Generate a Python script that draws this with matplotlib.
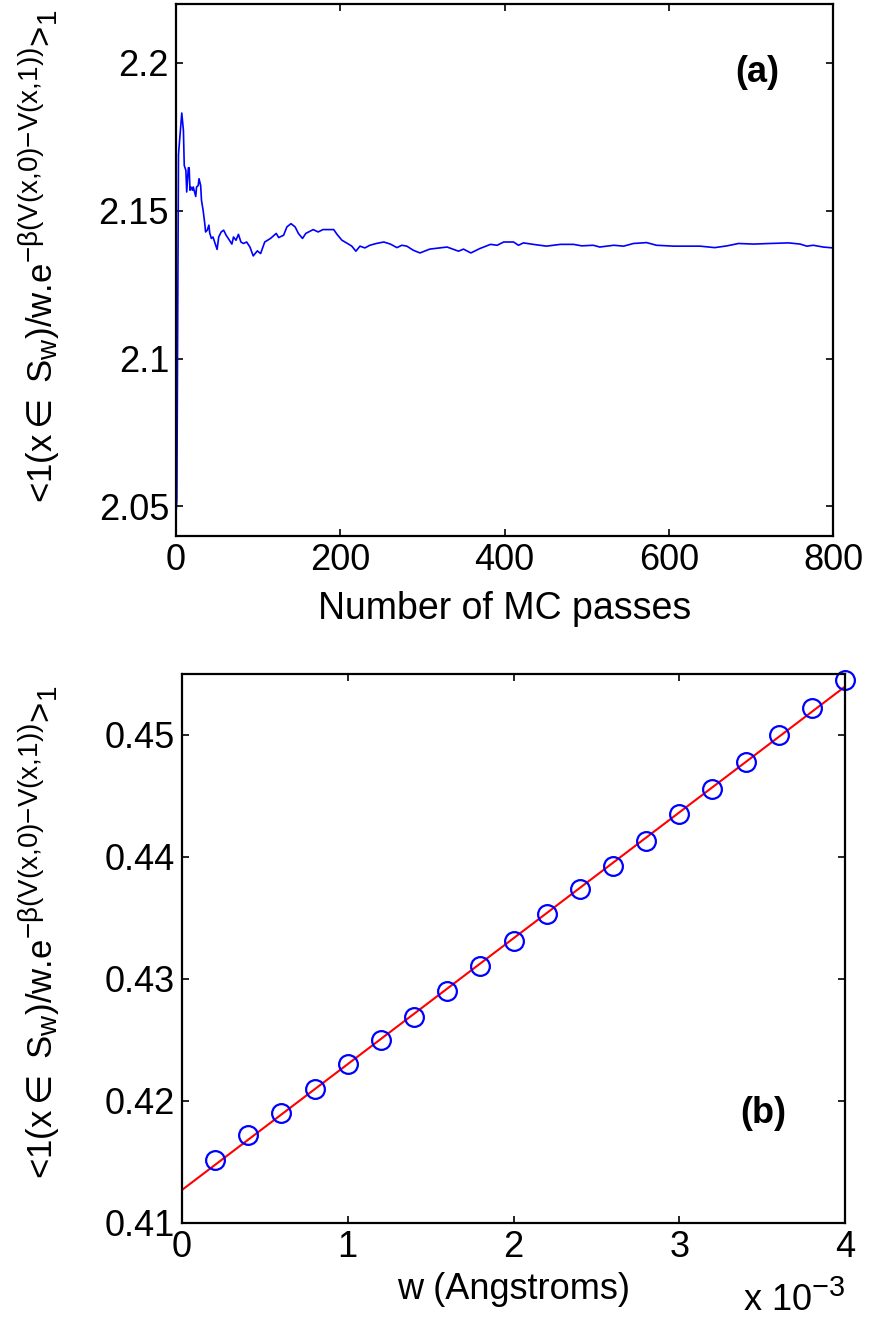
import numpy as np
import matplotlib
matplotlib.use("Agg")
import matplotlib.pyplot as plt
from matplotlib.ticker import FormatStrFormatter, FuncFormatter

try:
    # MATLAB draws sub/superscripts a bit larger than mathtext does
    import matplotlib._mathtext as _mt
    _mt.SHRINK_FACTOR = 0.8
except Exception:
    pass

plt.rcParams['font.family'] = ['Liberation Sans', 'DejaVu Sans']
plt.rcParams['mathtext.fontset'] = 'custom'
plt.rcParams['mathtext.rm'] = 'Liberation Sans'
plt.rcParams['mathtext.it'] = 'Liberation Sans'
plt.rcParams['mathtext.bf'] = 'Liberation Sans:bold'
plt.rcParams['mathtext.sf'] = 'DejaVu Sans'
plt.rcParams['mathtext.fallback'] = 'stixsans'

# (a) running average vs number of MC passes
passes = [0, 1, 3, 7, 9, 10, 12, 13, 15, 16, 17, 18, 20, 21, 22, 24, 25, 27, 28,
          30, 31, 33, 35, 36, 38, 40, 41, 43, 45, 47, 50, 52, 55, 58, 61, 65,
          68, 70, 73, 76, 79, 82, 86, 90, 94, 99, 103, 108, 115, 122, 125, 131,
          135, 140, 145, 149, 154, 158, 167, 173, 179, 192, 196, 202, 210, 214,
          219, 224, 230, 236, 244, 253, 261, 269, 275, 281, 289, 297, 309, 330,
          344, 350, 359, 370, 383, 391, 399, 411, 417, 423, 435, 451, 468, 484,
          494, 508, 516, 533, 545, 557, 573, 585, 606, 622, 638, 656, 671, 685,
          703, 723, 746, 760, 768, 776, 788, 800]
ratio = [2.048, 2.052, 2.169, 2.183, 2.1771, 2.1653, 2.1636, 2.1563, 2.1645,
         2.1645, 2.1569, 2.158, 2.1569, 2.158, 2.1569, 2.1548, 2.158, 2.1585,
         2.1608, 2.1585, 2.1535, 2.1501, 2.1456, 2.1428, 2.1434, 2.1451, 2.1425,
         2.1406, 2.1411, 2.1394, 2.1369, 2.1411, 2.1428, 2.1434, 2.1417, 2.140,
         2.1387, 2.1411, 2.140, 2.142, 2.1394, 2.1389, 2.1394, 2.1377, 2.1347,
         2.1364, 2.1355, 2.1394, 2.1406, 2.1423, 2.1409, 2.1417, 2.1445, 2.1456,
         2.1445, 2.1423, 2.1406, 2.1423, 2.1436, 2.1428, 2.1436, 2.1436, 2.142,
         2.140, 2.1387, 2.138, 2.1363, 2.138, 2.1374, 2.1383, 2.1389, 2.1394,
         2.1387, 2.1375, 2.1383, 2.138, 2.1366, 2.1357, 2.137, 2.1377, 2.1363,
         2.137, 2.1357, 2.1372, 2.1386, 2.1383, 2.1394, 2.1394, 2.1383, 2.1391,
         2.1386, 2.138, 2.1386, 2.1386, 2.1381, 2.1383, 2.1377, 2.1383, 2.138,
         2.1389, 2.1392, 2.1383, 2.138, 2.138, 2.138, 2.1375, 2.1381, 2.1389,
         2.1387, 2.1389, 2.1391, 2.1387, 2.138, 2.1383, 2.1377, 2.1374]

# (b) value vs window width w
w = np.array([0.2, 0.4, 0.6, 0.8, 1.0, 1.2, 1.4, 1.6, 1.8, 2.0,
              2.2, 2.4, 2.6, 2.8, 3.0, 3.2, 3.4, 3.6, 3.8, 4.0]) * 1e-3
val = [0.4152, 0.4172, 0.4190, 0.4210, 0.4230, 0.4250, 0.4269, 0.4290, 0.4311,
       0.4331, 0.4353, 0.4374, 0.4393, 0.4413, 0.4435, 0.4456, 0.4478, 0.4500,
       0.4522, 0.4545]

ylab = (r'<1(x$\mathsf{\in}$ S$_{w}$)/w.e$^{{-}\beta(V(x{,}0){-}V(x{,}1))}$>$_{1}$')

FS = 26

fig = plt.figure(figsize=(8.71, 13.21), dpi=100)
ax1 = fig.add_axes([0.2021, 0.5942, 0.7543, 0.4031])
ax2 = fig.add_axes([0.2090, 0.0742, 0.7612, 0.4156])

for ax in (ax1, ax2):
    ax.tick_params(direction='in', top=True, right=True, length=5, width=1.2,
                   labelsize=FS, pad=5)
    for s in ax.spines.values():
        s.set_linewidth(1.6)

# top panel
ax1.plot(passes, ratio, color='blue', lw=1.2)
ax1.set_xlim(0, 800)
ax1.set_ylim(2.04, 2.22)
ax1.set_xticks([0, 200, 400, 600, 800])
ax1.set_yticks([2.05, 2.1, 2.15, 2.2])
ax1.yaxis.set_major_formatter(FormatStrFormatter('%g'))
ax1.set_xlabel('Number of MC passes', fontsize=27, labelpad=9)
ax1.set_ylabel(ylab, fontsize=25)
ax1.yaxis.set_label_coords(-0.174, 0.525)
ax1.text(0.885, 0.871, '(a)', transform=ax1.transAxes, fontsize=FS,
         fontweight='bold', ha='center', va='center')

# bottom panel
fit = np.polyfit(w, val, 1)
wl = np.array([0, 4e-3])
ax2.plot(wl, np.polyval(fit, wl), color='red', lw=1.5)
ax2.plot(w, val, 'o', mfc='none', mec='blue', ms=13.5, mew=1.6, clip_on=False)
ax2.set_xlim(0, 4e-3)
ax2.set_ylim(0.41, 0.455)
ax2.set_xticks([0, 1e-3, 2e-3, 3e-3, 4e-3])
ax2.xaxis.set_major_formatter(FuncFormatter(lambda v, p: '%g' % round(v * 1e3, 6)))
ax2.set_yticks([0.41, 0.42, 0.43, 0.44, 0.45])
ax2.yaxis.set_major_formatter(FormatStrFormatter('%g'))
ax2.set_xlabel('w (Angstroms)', fontsize=FS, labelpad=5)
ax2.set_ylabel(ylab, fontsize=25)
ax2.yaxis.set_label_coords(-0.181, 0.53)
ax2.text(0.877, 0.20, '(b)', transform=ax2.transAxes, fontsize=FS,
         fontweight='bold', ha='center', va='center')
ax2.text(1.0, -0.14, r'x 10$^{-3}$', transform=ax2.transAxes, fontsize=FS,
         ha='right', va='center')

fig.savefig('out.png', dpi=100)
